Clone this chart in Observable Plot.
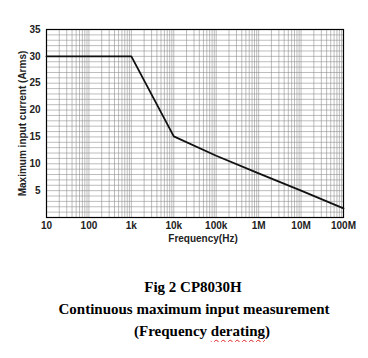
<!DOCTYPE html>
<html>
<head>
<meta charset="utf-8">
<script src="https://cdn.jsdelivr.net/npm/d3@7"></script>
<script src="https://cdn.jsdelivr.net/npm/@observablehq/plot@0.6"></script>
<style>
  html, body { margin: 0; padding: 0; background: #fff; }
  #chart { width: 368px; }
  .cap { font-family: "Liberation Serif", "Times New Roman", serif; font-weight: bold; font-size: 15px; line-height: 22px; color: #000; width: 368px; }
  .cap div { text-align: center; }
  .wavy { text-decoration: underline wavy #d22; text-decoration-thickness: 1px; text-underline-offset: 3px; }
</style>
</head>
<body>
<div id="chart"></div>
<div class="cap" style="margin-top:26px">
  <div style="padding-left:18px">Fig 2 CP8030H</div>
  <div style="padding-left:20px">Continuous maximum input measurement</div>
  <div style="padding-left:36px">(Frequency <span class="wavy">derating</span>)</div>
</div>
<script>
// Data
const freq = [10, 1000, 10000, 100000, 1000000, 10000000, 100000000];
const current = [30, 30, 15.1, 11.5, 8.2, 5.0, 1.7];
const xTickValues = [10, 100, 1000, 10000, 100000, 1000000, 10000000, 100000000];
const xTickLabels = ["10", "100", "1k", "10k", "100k", "1M", "10M", "100M"];
const yTickValues = [5, 10, 15, 20, 25, 30, 35];
const xTitle = "Frequency(Hz)";
const yTitle = "Maximum input current (Arms)";

const data = freq.map((f, i) => ({f, a: current[i]}));
const labelOf = new Map(xTickValues.map((v, i) => [v, xTickLabels[i]]));
const minorX = [];
for (let d = 1; d <= 7; d++) for (let m = 1; m <= 9; m++) minorX.push(m * Math.pow(10, d));
const gridYVals = d3.range(0, 36, 1);

const chart = Plot.plot({
  width: 368,
  height: 250,
  marginLeft: 46,
  marginRight: 25,
  marginTop: 29,
  marginBottom: 33,
  style: {fontFamily: "'Liberation Sans', Arial, sans-serif", fontSize: "10px", fontWeight: "bold", background: "#fff", color: "#222"},
  x: {type: "log", domain: [10, 1e8]},
  y: {domain: [0, 35]},
  marks: [
    Plot.gridY(gridYVals, {stroke: "#888", strokeOpacity: 0.8, strokeWidth: 0.7}),
    Plot.gridX(minorX, {stroke: "#888", strokeOpacity: 0.8, strokeWidth: 0.7}),
    Plot.axisX({ticks: xTickValues, tickFormat: (d) => labelOf.get(d) ?? "", tickSize: 0, tickPadding: 4,
      label: null, fontSize: 10}),
    Plot.text([xTitle], {frameAnchor: "bottom", dx: 8, dy: 24, fontSize: 10, fontWeight: "bold", fill: "#222"}),
    Plot.axisY({ticks: yTickValues, tickSize: 0, tickPadding: 6,
      label: yTitle, labelAnchor: "center", labelArrow: "none", labelOffset: 28, fontSize: 10}),
    Plot.frame({stroke: "#000", strokeWidth: 1.2}),
    Plot.line(data, {x: "f", y: "a", stroke: "#111", strokeWidth: 1.8})
  ]
});
document.getElementById("chart").appendChild(chart);
</script>
</body>
</html>
